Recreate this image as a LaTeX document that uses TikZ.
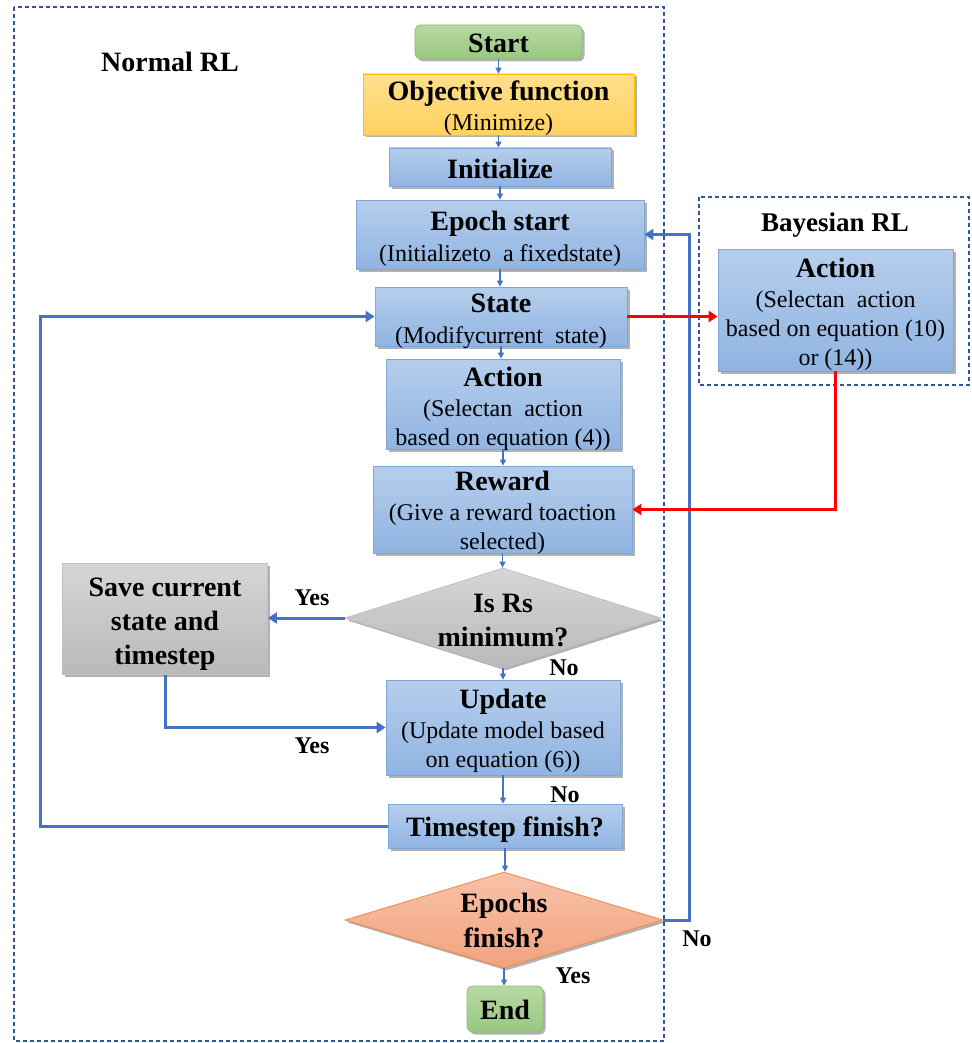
\documentclass[tikz,border=0pt]{standalone}
\usepackage{fontspec}
\setmainfont{Liberation Serif}
\usetikzlibrary{shapes.geometric,arrows.meta,shadows}
\definecolor{boxtop}{HTML}{B6CEEC}
\definecolor{boxbot}{HTML}{90B4E2}
\definecolor{boxline}{HTML}{7EA6D9}
\definecolor{objtop}{HTML}{FFDF8C}
\definecolor{objbot}{HTML}{FFD160}
\definecolor{objline}{HTML}{FFC000}
\definecolor{grtop}{HTML}{B8D9A3}
\definecolor{grbot}{HTML}{98C77F}
\definecolor{grline}{HTML}{8CBF6E}
\definecolor{gytop}{HTML}{D6D6D6}
\definecolor{gybot}{HTML}{B9B9B9}
\definecolor{gyline}{HTML}{C0C0C0}
\definecolor{ortop}{HTML}{F7C2A8}
\definecolor{orbot}{HTML}{F2A27E}
\definecolor{orline}{HTML}{F08A4B}
\definecolor{conn}{HTML}{4472C4}
\definecolor{dashc}{HTML}{2F5597}
\newcommand\boldtitle[2][0pt]{{\fontsize{28}{30}\selectfont\bfseries\rule{0pt}{#1}#2}}
\newcommand\liftrule[1]{\rule{0pt}{#1}}
\tikzset{
  shade/.style={drop shadow={shadow xshift=2.5pt,shadow yshift=-2.5pt,opacity=0.3,fill=black}},
  base/.style={inner sep=0pt,align=center,line width=0.8pt,shade,font=\fontsize{24}{29}\selectfont},
  box/.style={base,inner ysep=-4pt,rectangle,draw=boxline,top color=boxtop,bottom color=boxbot},
  objbox/.style={base,inner ysep=-4pt,rectangle,draw=objline,top color=objtop,bottom color=objbot},
  greenbox/.style={base,rectangle,rounded corners=6pt,draw=grline,top color=grtop,bottom color=grbot},
  graybox/.style={base,rectangle,draw=gyline,top color=gytop,bottom color=gybot},
  graydia/.style={base,diamond,shape aspect=3.16,draw=gyline,top color=gytop,bottom color=gybot},
  orangedia/.style={base,diamond,shape aspect=3.3,draw=orline,top color=ortop,bottom color=orbot},
  thinarrow/.style={draw=conn,line width=1.1pt,-{Triangle[length=6pt,width=6pt]}},
  thickarrow/.style={draw=conn,line width=3pt,-{Triangle[length=9pt,width=11pt]}},
  redarrow/.style={draw=red,line width=3pt,-{Triangle[length=9pt,width=11pt]}},
  dashbox/.style={draw=dashc,line width=1.3pt,dash pattern=on 4pt off 3pt},
  lbl/.style={inner sep=0pt,font=\fontsize{24}{28}\selectfont\bfseries},
  ttl/.style={inner sep=0pt,font=\fontsize{28}{30}\selectfont\bfseries}
}
\begin{document}
\begin{tikzpicture}[x=1pt,y=-1pt]
\useasboundingbox (0,0) rectangle (971,1043);
% frames
\draw[dashbox] (14,7) rectangle (664,1041);
\draw[dashbox] (699,197) rectangle (969,385);
\node[ttl] (normal) at (170,62) {Normal RL};
\node[ttl,font=\fontsize{27}{30}\selectfont\bfseries] (bayes) at (835,225) {Bayesian RL};
% nodes
\node[greenbox,minimum width=167,minimum height=34] (start) at (498.5,42) {\boldtitle[21pt]{Start}};
\node[objbox,minimum width=271,minimum height=61] (obj) at (498.5,104.5) {\boldtitle[26.5pt]{Objective function}\\[1pt](Minimize)};
\node[box,minimum width=222,minimum height=38] (init) at (500,167) {\boldtitle[23.5pt]{Initialize}};
\node[box,minimum width=288,minimum height=69] (epoch) at (500,234.5) {\boldtitle[28pt]{Epoch start}\\[2pt](Initializeto~\ a fixedstate)};
\node[box,minimum width=252,minimum height=59] (state) at (501,316.5) {\boldtitle[27.5pt]{State}\\[2pt](Modifycurrent~\ state)};
\node[box,minimum width=234,minimum height=90] (act) at (503,404) {\boldtitle[29.5pt]{Action}\\[1pt](Selectan~\ action\\based on equation (4))};
\node[box,minimum width=259,minimum height=87] (reward) at (502.5,509.5) {\boldtitle[27pt]{Reward}\\[1pt](Give a reward toaction\\selected)};
\node[graydia,font=\fontsize{28}{34}\selectfont\bfseries,minimum width=316,minimum height=100] (isrs) at (503,618) {\liftrule{23.5pt}Is Rs\\minimum?};
\node[graybox,font=\fontsize{28}{34}\selectfont\bfseries,minimum width=205,minimum height=111] (save) at (165,619) {\liftrule{29pt}Save current\\state and\\timestep};
\node[box,minimum width=234,minimum height=95] (update) at (503,727.5) {\boldtitle[27pt]{Update}\\[1pt](Update model based\\on equation (6))};
\node[box,minimum width=234,minimum height=44] (ts) at (505,826) {\boldtitle[27.5pt]{Timestep finish?}};
\node[orangedia,font=\fontsize{28}{35}\selectfont\bfseries,minimum width=318,minimum height=96] (epochs) at (504,920) {Epochs\\finish?};
\node[greenbox,minimum width=76,minimum height=46] (end) at (505,1009) {\boldtitle[21pt]{End}};
\node[box,minimum width=235,minimum height=122] (bact) at (835.5,310) {\boldtitle[27.5pt]{Action}\\[1pt](Selectan~\ action\\based on equation (10)\\or (14))};
% helper coordinates
\coordinate (loopx) at (40,0);
\coordinate (rightx) at (689,0);
% vertical flow
\draw[thinarrow] (start.south) -- (start.south |- obj.north);
\draw[thinarrow] (obj.south) -- (obj.south |- init.north);
\draw[thinarrow] (init.south) -- (init.south |- epoch.north);
\draw[thinarrow] (epoch.south) -- (epoch.south |- state.north);
\draw[thinarrow] (state.south) -- (state.south |- act.north);
\draw[thinarrow] (act.south) -- (act.south |- reward.north);
\draw[thinarrow] (reward.south) -- (reward.south |- isrs.north);
\draw[thinarrow] (isrs.south) -- (isrs.south |- update.north);
\draw[thinarrow] (update.south) -- (update.south |- ts.north);
\draw[thinarrow] (ts.south) -- (ts.south |- epochs.north);
\draw[thinarrow] (epochs.south) -- (epochs.south |- end.north);
% loops
\draw[thickarrow] (isrs.west) -- (isrs.west -| save.east);
\draw[thickarrow] (save.south) |- (update.west);
\draw[thickarrow] (ts.west) -- (ts.west -| loopx) |- (state.west);
\draw[thickarrow] (epochs.east) -- (epochs.east -| rightx) |- (epoch.east);
\draw[redarrow] (state.east) -- (state.east -| bact.west);
\draw[redarrow] (bact.south) |- (reward.east);
% labels
\node[lbl] (y1) at (312,598) {Yes};
\node[lbl] (n1) at (564,668) {No};
\node[lbl] (y2) at (312,746) {Yes};
\node[lbl] (n2) at (565,795) {No};
\node[lbl] (n3) at (697,939) {No};
\node[lbl] (y3) at (573,976) {Yes};
\end{tikzpicture}
\end{document}
